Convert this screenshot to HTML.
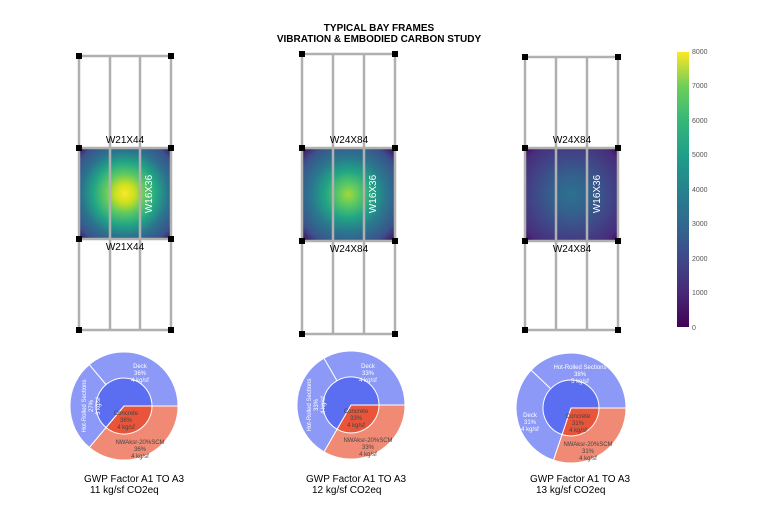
<!DOCTYPE html>
<html><head><meta charset="utf-8"><style>
body{margin:0;background:#fff;width:759px;height:512px;overflow:hidden}
svg{display:block;font-family:"Liberation Sans",sans-serif}
</style></head><body>
<svg width="759" height="512" viewBox="0 0 759 512">
<defs>
<radialGradient id="g1" cx="0.5" cy="0.5" r="0.72">
<stop offset="0" stop-color="#fde725"/><stop offset="0.15" stop-color="#c8e020"/><stop offset="0.3" stop-color="#5ec962"/><stop offset="0.48" stop-color="#21a585"/><stop offset="0.66" stop-color="#2c728e"/><stop offset="0.85" stop-color="#3b528b"/><stop offset="1" stop-color="#440154"/>
</radialGradient>
<radialGradient id="g2" cx="0.5" cy="0.5" r="0.72">
<stop offset="0" stop-color="#a0da39"/><stop offset="0.15" stop-color="#5ec962"/><stop offset="0.35" stop-color="#21a585"/><stop offset="0.55" stop-color="#2a788e"/><stop offset="0.8" stop-color="#3b528b"/><stop offset="1" stop-color="#440154"/>
</radialGradient>
<radialGradient id="g3" cx="0.5" cy="0.5" r="0.72">
<stop offset="0" stop-color="#2c728e"/><stop offset="0.3" stop-color="#355f8d"/><stop offset="0.6" stop-color="#414487"/><stop offset="0.85" stop-color="#472d7b"/><stop offset="1" stop-color="#440154"/>
</radialGradient>
<linearGradient id="cb" x1="0" y1="1" x2="0" y2="0">
<stop offset="0" stop-color="#440154"/><stop offset="0.125" stop-color="#482878"/><stop offset="0.25" stop-color="#3e4989"/><stop offset="0.375" stop-color="#31688e"/><stop offset="0.5" stop-color="#26828e"/><stop offset="0.625" stop-color="#1f9e89"/><stop offset="0.75" stop-color="#35b779"/><stop offset="0.875" stop-color="#6ece58"/><stop offset="1" stop-color="#fde725"/>
</linearGradient>
</defs>
<text x="379" y="31" text-anchor="middle" font-size="10" font-weight="bold">TYPICAL BAY FRAMES</text>
<text x="379" y="42" text-anchor="middle" font-size="10" font-weight="bold">VIBRATION &amp; EMBODIED CARBON STUDY</text>

<!-- Frame 1 -->
<g>
<rect x="79" y="148" width="92" height="91" fill="url(#g1)"/>
<g stroke="#b0b0b0" stroke-width="2.5" fill="none">
<line x1="79" y1="56" x2="171" y2="56"/><line x1="79" y1="330" x2="171" y2="330"/>
<line x1="79" y1="148" x2="171" y2="148"/><line x1="79" y1="239" x2="171" y2="239"/>
<line x1="79" y1="56" x2="79" y2="330"/><line x1="110" y1="56" x2="110" y2="330"/><line x1="140" y1="56" x2="140" y2="330"/><line x1="171" y1="56" x2="171" y2="330"/>
</g>
<g fill="#000"><rect x="76" y="53" width="6" height="6"/><rect x="168" y="53" width="6" height="6"/><rect x="76" y="145" width="6" height="6"/><rect x="168" y="145" width="6" height="6"/><rect x="76" y="236" width="6" height="6"/><rect x="168" y="236" width="6" height="6"/><rect x="76" y="327" width="6" height="6"/><rect x="168" y="327" width="6" height="6"/></g>
<text x="125" y="143" text-anchor="middle" font-size="10">W21X44</text>
<text x="125" y="250" text-anchor="middle" font-size="10">W21X44</text>
<text transform="translate(152,194) rotate(-90)" text-anchor="middle" font-size="10" fill="#fff">W16X36</text>
</g>

<!-- Frame 2 -->
<g>
<rect x="302" y="148" width="93" height="93" fill="url(#g2)"/>
<g stroke="#b0b0b0" stroke-width="2.5" fill="none">
<line x1="302" y1="54" x2="395" y2="54"/><line x1="302" y1="334" x2="395" y2="334"/>
<line x1="302" y1="148" x2="395" y2="148"/><line x1="302" y1="241" x2="395" y2="241"/>
<line x1="302" y1="54" x2="302" y2="334"/><line x1="333" y1="54" x2="333" y2="334"/><line x1="364" y1="54" x2="364" y2="334"/><line x1="395" y1="54" x2="395" y2="334"/>
</g>
<g fill="#000"><rect x="299" y="51" width="6" height="6"/><rect x="392" y="51" width="6" height="6"/><rect x="299" y="145" width="6" height="6"/><rect x="392" y="145" width="6" height="6"/><rect x="299" y="238" width="6" height="6"/><rect x="392" y="238" width="6" height="6"/><rect x="299" y="331" width="6" height="6"/><rect x="392" y="331" width="6" height="6"/></g>
<text x="349" y="143" text-anchor="middle" font-size="10">W24X84</text>
<text x="349" y="252" text-anchor="middle" font-size="10">W24X84</text>
<text transform="translate(376,194) rotate(-90)" text-anchor="middle" font-size="10" fill="#fff">W16X36</text>
</g>

<!-- Frame 3 -->
<g>
<rect x="525" y="148" width="93" height="93" fill="url(#g3)"/>
<g stroke="#b0b0b0" stroke-width="2.5" fill="none">
<line x1="525" y1="57" x2="618" y2="57"/><line x1="525" y1="330" x2="618" y2="330"/>
<line x1="525" y1="148" x2="618" y2="148"/><line x1="525" y1="241" x2="618" y2="241"/>
<line x1="525" y1="57" x2="525" y2="330"/><line x1="556" y1="57" x2="556" y2="330"/><line x1="587" y1="57" x2="587" y2="330"/><line x1="618" y1="57" x2="618" y2="330"/>
</g>
<g fill="#000"><rect x="522" y="54" width="6" height="6"/><rect x="615" y="54" width="6" height="6"/><rect x="522" y="145" width="6" height="6"/><rect x="615" y="145" width="6" height="6"/><rect x="522" y="238" width="6" height="6"/><rect x="615" y="238" width="6" height="6"/><rect x="522" y="327" width="6" height="6"/><rect x="615" y="327" width="6" height="6"/></g>
<text x="572" y="143" text-anchor="middle" font-size="10">W24X84</text>
<text x="572" y="252" text-anchor="middle" font-size="10">W24X84</text>
<text transform="translate(600,194) rotate(-90)" text-anchor="middle" font-size="10" fill="#fff">W16X36</text>
</g>

<!-- colorbar -->
<rect x="677" y="52" width="12" height="275" fill="url(#cb)"/>
<g font-size="7" fill="#555">
<text x="692" y="54">8000</text><text x="692" y="88">7000</text><text x="692" y="123">6000</text><text x="692" y="157">5000</text><text x="692" y="192">4000</text><text x="692" y="226">3000</text><text x="692" y="261">2000</text><text x="692" y="295">1000</text><text x="692" y="330">0</text>
</g>

<!-- Pie 1: center 124,406 -->
<g stroke="#fff" stroke-width="1">
<path d="M124,406 L178,406 A54,54 0 0 1 89.3,447.4 Z" fill="#f08a74"/>
<path d="M124,406 L89.3,447.4 A54,54 0 0 1 89.3,364.6 Z" fill="#8d99f6"/>
<path d="M124,406 L89.3,364.6 A54,54 0 0 1 178,406 Z" fill="#8d99f6"/>
<path d="M124,406 L152,406 A28,28 0 0 1 106,427.5 Z" fill="#e8553a"/>
<path d="M124,406 L106,427.5 A28,28 0 1 1 152,406 Z" fill="#5b6df1"/>
</g>
<g font-size="6" text-anchor="middle">
<text x="140" y="368" fill="#fff">Deck</text><text x="140" y="375" fill="#fff">36%</text><text x="140" y="382" fill="#fff">4 kg/sf</text>
<text x="140" y="444" fill="#444">NWAksr-20%SCM</text><text x="140" y="451" fill="#444">36%</text><text x="140" y="458" fill="#444">4 kg/sf</text>
<text x="126" y="415" fill="#444">Concrete</text><text x="126" y="422" fill="#444">36%</text><text x="126" y="429" fill="#444">4 kg/sf</text>
</g>
<text transform="translate(86,406) rotate(-90)" font-size="6" fill="#fff" text-anchor="middle">Hot-Rolled Sections</text>
<text transform="translate(93,406) rotate(-90)" font-size="6" fill="#fff" text-anchor="middle">27%</text>
<text transform="translate(100,406) rotate(-90)" font-size="6" fill="#fff" text-anchor="middle">3 kg/sf</text>
<text x="84" y="482" font-size="10">GWP Factor A1 TO A3</text>
<text x="90" y="493" font-size="10">11 kg/sf CO2eq</text>

<!-- Pie 2: center 351,405 -->
<g stroke="#fff" stroke-width="1">
<path d="M351,405 L405,405 A54,54 0 0 1 324,451.8 Z" fill="#f08a74"/>
<path d="M351,405 L324,451.8 A54,54 0 0 1 324,358.2 Z" fill="#8d99f6"/>
<path d="M351,405 L324,358.2 A54,54 0 0 1 405,405 Z" fill="#8d99f6"/>
<path d="M351,405 L379,405 A28,28 0 0 1 337,429.2 Z" fill="#e8553a"/>
<path d="M351,405 L337,429.2 A28,28 0 1 1 379,405 Z" fill="#5b6df1"/>
</g>
<g font-size="6" text-anchor="middle">
<text x="368" y="368" fill="#fff">Deck</text><text x="368" y="375" fill="#fff">33%</text><text x="368" y="382" fill="#fff">4 kg/sf</text>
<text x="368" y="442" fill="#444">NWAksr-20%SCM</text><text x="368" y="449" fill="#444">33%</text><text x="368" y="456" fill="#444">4 kg/sf</text>
<text x="356" y="413" fill="#444">Concrete</text><text x="356" y="420" fill="#444">33%</text><text x="356" y="427" fill="#444">4 kg/sf</text>
</g>
<text transform="translate(311,405) rotate(-90)" font-size="6" fill="#fff" text-anchor="middle">Hot-Rolled Sections</text>
<text transform="translate(318,405) rotate(-90)" font-size="6" fill="#fff" text-anchor="middle">33%</text>
<text transform="translate(325,405) rotate(-90)" font-size="6" fill="#fff" text-anchor="middle">4 kg/sf</text>
<text x="306" y="482" font-size="10">GWP Factor A1 TO A3</text>
<text x="312" y="493" font-size="10">12 kg/sf CO2eq</text>

<!-- Pie 3: center 571,408 -->
<g stroke="#fff" stroke-width="1">
<path d="M571,408 L626,408 A55,55 0 0 1 553.4,460.1 Z" fill="#f08a74"/>
<path d="M571,408 L553.4,460.1 A55,55 0 0 1 531.2,370.1 Z" fill="#8d99f6"/>
<path d="M571,408 L531.2,370.1 A55,55 0 0 1 626,408 Z" fill="#8d99f6"/>
<path d="M571,408 L599,408 A28,28 0 0 1 562,434.5 Z" fill="#e8553a"/>
<path d="M571,408 L562,434.5 A28,28 0 1 1 599,408 Z" fill="#5b6df1"/>
</g>
<g font-size="6" text-anchor="middle">
<text x="580" y="369" fill="#fff">Hot-Rolled Sections</text><text x="580" y="376" fill="#fff">38%</text><text x="580" y="383" fill="#fff">5 kg/sf</text>
<text x="530" y="417" fill="#fff">Deck</text><text x="530" y="424" fill="#fff">31%</text><text x="530" y="431" fill="#fff">4 kg/sf</text>
<text x="588" y="446" fill="#444">NWAksr-20%SCM</text><text x="588" y="453" fill="#444">31%</text><text x="588" y="460" fill="#444">4 kg/sf</text>
<text x="578" y="418" fill="#444">Concrete</text><text x="578" y="425" fill="#444">31%</text><text x="578" y="432" fill="#444">4 kg/sf</text>
</g>
<text x="530" y="482" font-size="10">GWP Factor A1 TO A3</text>
<text x="536" y="493" font-size="10">13 kg/sf CO2eq</text>
</svg>
</body></html>
